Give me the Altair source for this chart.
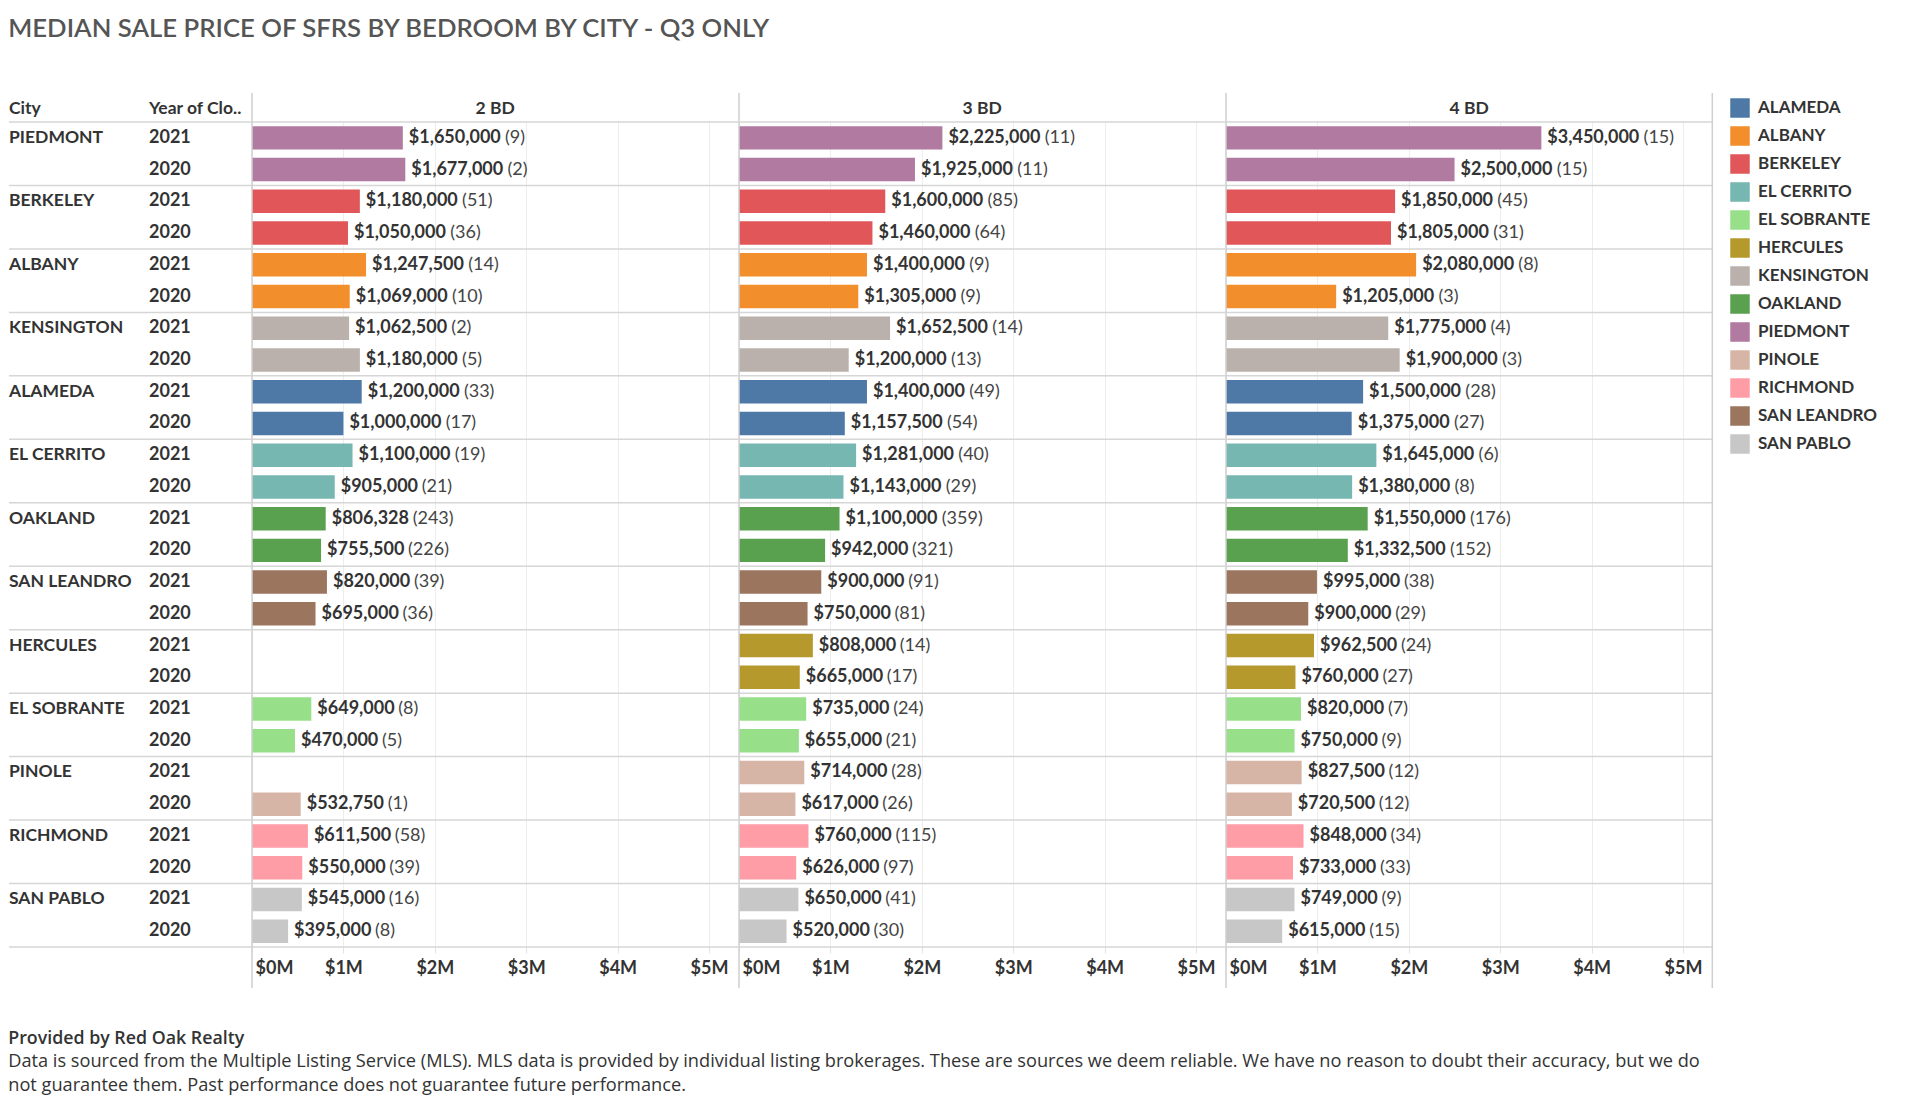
import altair as alt
import pandas as pd

TITLE = "MEDIAN SALE PRICE OF SFRS BY BEDROOM BY CITY - Q3 ONLY"
CITIES = ["PIEDMONT", "BERKELEY", "ALBANY", "KENSINGTON", "ALAMEDA", "EL CERRITO",
          "OAKLAND", "SAN LEANDRO", "HERCULES", "EL SOBRANTE", "PINOLE", "RICHMOND", "SAN PABLO"]
YEARS = ["2021", "2020"]
BEDROOMS = ["2 BD", "3 BD", "4 BD"]
ROW_HEADERS = ["City", "Year of Clo.."]

# one entry per (city, year) row, city order as above, 2021 then 2020
PRICE_2BD = [1650000, 1677000, 1180000, 1050000, 1247500, 1069000, 1062500, 1180000,
             1200000, 1000000, 1100000, 905000, 806328, 755500, 820000, 695000,
             None, None, 649000, 470000, None, 532750, 611500, 550000, 545000, 395000]
COUNT_2BD = [9, 2, 51, 36, 14, 10, 2, 5, 33, 17, 19, 21, 243, 226, 39, 36,
             None, None, 8, 5, None, 1, 58, 39, 16, 8]
PRICE_3BD = [2225000, 1925000, 1600000, 1460000, 1400000, 1305000, 1652500, 1200000,
             1400000, 1157500, 1281000, 1143000, 1100000, 942000, 900000, 750000,
             808000, 665000, 735000, 655000, 714000, 617000, 760000, 626000, 650000, 520000]
COUNT_3BD = [11, 11, 85, 64, 9, 9, 14, 13, 49, 54, 40, 29, 359, 321, 91, 81,
             14, 17, 24, 21, 28, 26, 115, 97, 41, 30]
PRICE_4BD = [3450000, 2500000, 1850000, 1805000, 2080000, 1205000, 1775000, 1900000,
             1500000, 1375000, 1645000, 1380000, 1550000, 1332500, 995000, 900000,
             962500, 760000, 820000, 750000, 827500, 720500, 848000, 733000, 749000, 615000]
COUNT_4BD = [15, 15, 45, 31, 8, 3, 4, 3, 28, 27, 6, 8, 176, 152, 38, 29,
             24, 27, 7, 9, 12, 12, 34, 33, 9, 15]

LEGEND_CITIES = ["ALAMEDA", "ALBANY", "BERKELEY", "EL CERRITO", "EL SOBRANTE", "HERCULES",
                 "KENSINGTON", "OAKLAND", "PIEDMONT", "PINOLE", "RICHMOND", "SAN LEANDRO", "SAN PABLO"]
LEGEND_COLORS = ["#4e79a7", "#f28e2b", "#e15759", "#76b7b2", "#98df8a", "#b6992d",
                 "#bab0ac", "#59a14f", "#b07aa1", "#d7b5a6", "#ff9da7", "#9c755f", "#c7c7c7"]
AXIS_TICKS = [0, 1000000, 2000000, 3000000, 4000000, 5000000]
X_MAX = 5320000

FOOTER_HEAD = "Provided by Red Oak Realty"
FOOTER_LINES = [
    "Data is sourced from the Multiple Listing Service (MLS). MLS data is provided by individual listing brokerages. These are sources we deem reliable. We have no reason to doubt their accuracy, but we do",
    "not guarantee them. Past performance does not guarantee future performance.",
]

FONT = "Lato"
FOOT_FONT = "Open Sans"
TXT = "#333333"
LINE = "#d6d6d6"
H = 825
PW = 486.3
CITY_W = 140
YEAR_W = 102.7
TOP_EXT = 29
BOT_EXT = 41
LABEL_FS = 18
# approximate pixel widths of "$x,xxx,xxx" / "$xxx,xxx" in bold label font
W7 = LABEL_FS * (8 * 0.58 + 2 * 0.27)
W6 = LABEL_FS * (7 * 0.58 + 1 * 0.27)

rows = pd.DataFrame(
    [(c, y, f"{c}|{y}") for c in CITIES for y in YEARS], columns=["city", "year", "key"]
)
KEYS = list(rows["key"])
sep_df = pd.DataFrame({"key": [f"{c}|{YEARS[0]}" for c in CITIES]})
one_df = sep_df.head(1)

yscale = alt.Scale(domain=KEYS, paddingInner=0, paddingOuter=0)


def ypos(**kw):
    return alt.Y("key:N", sort=KEYS, scale=yscale, axis=None, **kw)


def header(text, x, align):
    return alt.Chart(pd.DataFrame({"h": [text]})).mark_text(
        align=align, baseline="alphabetic", font=FONT, fontSize=17.5,
        fontWeight="bold", color=TXT
    ).encode(text="h:N", x=alt.value(x), y=alt.value(-8))


def frame_layers(width, show_left, show_right=False):
    seps = alt.Chart(sep_df).mark_rule(color=LINE, strokeWidth=1.5).encode(
        y=ypos(bandPosition=0), x=alt.value(0), x2=alt.value(width))
    bottom = alt.Chart(one_df).mark_rule(color=LINE, strokeWidth=1.5).encode(
        y=alt.value(H), x=alt.value(0), x2=alt.value(width))
    left = alt.Chart(one_df).mark_rule(color="#cfcfcf", strokeWidth=1.5,
                                       strokeOpacity=1 if show_left else 0).encode(
        x=alt.value(0), y=alt.value(-TOP_EXT), y2=alt.value(H + BOT_EXT))
    layers = [seps, bottom, left]
    if show_right:
        layers.append(alt.Chart(one_df).mark_rule(color="#cfcfcf", strokeWidth=1.5).encode(
            x=alt.value(width), y=alt.value(-TOP_EXT), y2=alt.value(H + BOT_EXT)))
    return layers


# row header: city
city_df = rows[rows["year"] == YEARS[0]]
city_txt = alt.Chart(city_df).mark_text(
    align="left", baseline="middle", font=FONT, fontSize=17.5, fontWeight="bold", color=TXT
).encode(y=ypos(), x=alt.value(0), text="city:N")
city_col = alt.layer(*frame_layers(CITY_W, False), city_txt,
                     header(ROW_HEADERS[0], 0, "left")).properties(width=CITY_W, height=H)

year_txt = alt.Chart(rows).mark_text(
    align="left", baseline="middle", font=FONT, fontSize=18, fontWeight="bold", color=TXT
).encode(y=ypos(), x=alt.value(0), text="year:N")
year_col = alt.layer(*frame_layers(YEAR_W, False), year_txt,
                     header(ROW_HEADERS[1], 0, "left")).properties(width=YEAR_W, height=H)


def panel(bd, prices, counts, last=False):
    df = rows.copy()
    df["value"] = prices
    df["n"] = counts
    df = df.dropna(subset=["value"])
    xs = alt.Scale(domain=[0, X_MAX], nice=False, zero=True)
    base = alt.Chart(df)
    bars = base.mark_bar(height={"band": 0.74}).encode(
        x=alt.X("value:Q", scale=xs, title=None, axis=alt.Axis(
            values=AXIS_TICKS, labelExpr="'$' + format(datum.value / 1000000, 'd') + 'M'",
            grid=True, gridColor="#ededed", gridWidth=1, domain=False,
            ticks=True, tickColor="#e3e3e3", tickSize=6,
            labelFont=FONT, labelFontSize=18, labelFontWeight="bold", labelColor=TXT,
            labelPadding=20, labelBaseline="alphabetic", labelFlush=True, labelFlushOffset=-3)),
        y=ypos(),
        color=alt.Color("city:N", scale=alt.Scale(domain=LEGEND_CITIES, range=LEGEND_COLORS),
                        legend=alt.Legend(title=None, orient="none", legendX=1721, legendY=-24,
                                          symbolType="square", symbolSize=380, symbolStrokeWidth=0,
                                          labelFont=FONT, labelFontSize=17, labelFontWeight="bold",
                                          labelColor=TXT, labelOffset=8, rowPadding=8)),
    )
    price = base.transform_calculate(
        lbl="format(datum.value, '$,.0f')"
    ).mark_text(align="left", baseline="middle", dx=6, font=FONT, fontSize=LABEL_FS,
                fontWeight="bold", color=TXT).encode(
        x=alt.X("value:Q", scale=xs, title=None), y=ypos(), text="lbl:N")
    cnt = base.transform_calculate(
        lbl="'(' + format(datum.n, 'd') + ')'",
        xc=f"datum.value + ((datum.value >= 1000000 ? {W7} : {W6}) + 9) * {X_MAX / PW}",
    ).mark_text(align="left", baseline="middle", font=FONT, fontSize=LABEL_FS,
                color="#444444").encode(
        x=alt.X("xc:Q", scale=xs, title=None), y=ypos(), text="lbl:N")
    layers = frame_layers(PW, True, last)
    return alt.layer(bars, *layers, price, cnt, header(bd, PW / 2, "center")).properties(
        width=PW, height=H)


p2 = panel(BEDROOMS[0], PRICE_2BD, COUNT_2BD)
p3 = panel(BEDROOMS[1], PRICE_3BD, COUNT_3BD)
p4 = panel(BEDROOMS[2], PRICE_4BD, COUNT_4BD, last=True)

body = alt.hconcat(city_col, year_col, p2, p3, p4, spacing=0, bounds="flush").properties(
    title=alt.TitleParams(
        text=FOOTER_HEAD, subtitle=FOOTER_LINES, orient="bottom", anchor="start",
        offset=41, font=FOOT_FONT, fontSize=17.8, fontWeight=600, color=TXT,
        subtitleFont=FOOT_FONT, subtitleFontSize=18.2, subtitleColor=TXT,
        subtitleLineHeight=24.5, subtitlePadding=5))

chart = alt.vconcat(body).properties(
    title=alt.TitleParams(text=TITLE, anchor="start", font=FONT,
                          fontSize=25.7, fontWeight=600, color="#555555", offset=50),
    padding={"top": 7, "left": 0, "right": 0, "bottom": 4},
).configure_view(stroke=None)

chart.save("out.html", embed_options={"renderer": "svg", "actions": False})
